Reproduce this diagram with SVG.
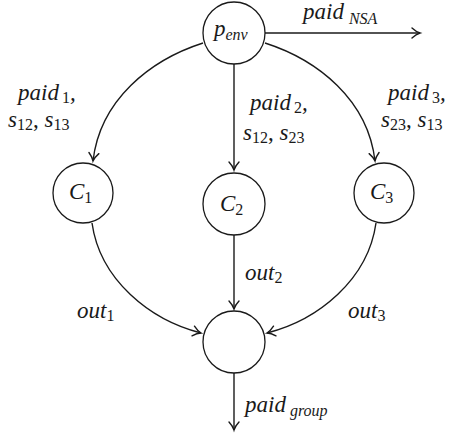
<svg xmlns="http://www.w3.org/2000/svg" width="459" height="436" viewBox="0 0 459 436">
<style>
.n{fill:#fff;stroke:#1a1a1a;stroke-width:1.3}
.e{fill:none;stroke:#1a1a1a;stroke-width:1.4;marker-end:url(#ah)}
.t{font-family:"Liberation Serif",serif;font-style:italic;font-size:23px;fill:#1a1a1a}
.s{font-size:16px}
.u{font-style:normal}
</style>
<defs>
<marker id="ah" markerUnits="userSpaceOnUse" markerWidth="12" markerHeight="12" refX="0" refY="0" orient="auto" overflow="visible">
<path d="M -8,-5 C -5,-2.2 -2,-0.6 0,0 C -2,0.6 -5,2.2 -8,5" fill="none" stroke="#1a1a1a" stroke-width="1.4" stroke-linecap="round"/>
</marker>
</defs>
<rect width="459" height="436" fill="#fff"/>
<g id="connectors">
<path class="e" d="M 265,33 L 420,33"/>
<path class="e" d="M 203,43 C 150,60 100,100 93,161"/>
<path class="e" d="M 234,64 L 234,170"/>
<path class="e" d="M 265,43 C 318,60 368,100 375,161"/>
<path class="e" d="M 92,223 C 100,280 150,320 201,333"/>
<path class="e" d="M 234,235 L 234,309"/>
<path class="e" d="M 376,223 C 368,280 318,320 267,333"/>
<path class="e" d="M 234,373 L 234,430"/>
</g>
<g id="penv"><circle class="n" cx="234" cy="33" r="31"/><text class="t" x="214" y="36">p<tspan class="s" dy="4">env</tspan></text></g>
<g id="C1"><circle class="n" cx="83" cy="193" r="30"/><text class="t" x="69" y="199">C<tspan class="s u" dy="4">1</tspan></text></g>
<g id="C2"><circle class="n" cx="234" cy="204" r="31"/><text class="t" x="220" y="211">C<tspan class="s u" dy="4">2</tspan></text></g>
<g id="C3"><circle class="n" cx="384" cy="193" r="30"/><text class="t" x="370" y="199">C<tspan class="s u" dy="4">3</tspan></text></g>
<g id="out"><circle class="n" cx="234" cy="342" r="31"/></g>
<g id="labels">
<text class="t" x="303" y="19">paid<tspan class="s" dx="5" dy="5">NSA</tspan></text>
<text class="t" x="18" y="100">paid<tspan class="s u" dx="3" dy="3">1</tspan><tspan dy="-3">,</tspan></text>
<text class="t" x="8" y="127">s<tspan class="s u" dy="3">12</tspan><tspan class="u" dy="-3">, </tspan>s<tspan class="s u" dy="3">13</tspan></text>
<text class="t" x="250" y="110">paid<tspan class="s u" dx="3" dy="3">2</tspan><tspan dy="-3">,</tspan></text>
<text class="t" x="243" y="140">s<tspan class="s u" dy="3">12</tspan><tspan class="u" dy="-3">, </tspan>s<tspan class="s u" dy="3">23</tspan></text>
<text class="t" x="388" y="100">paid<tspan class="s u" dx="3" dy="3">3</tspan><tspan dy="-3">,</tspan></text>
<text class="t" x="381" y="127">s<tspan class="s u" dy="3">23</tspan><tspan class="u" dy="-3">, </tspan>s<tspan class="s u" dy="3">13</tspan></text>
<text class="t" x="77" y="318">out<tspan class="s u" dy="3">1</tspan></text>
<text class="t" x="245" y="280">out<tspan class="s u" dy="3">2</tspan></text>
<text class="t" x="348" y="318">out<tspan class="s u" dy="3">3</tspan></text>
<text class="t" x="245" y="412">paid<tspan class="s" dx="4" dy="4">group</tspan></text>
</g>
</svg>
